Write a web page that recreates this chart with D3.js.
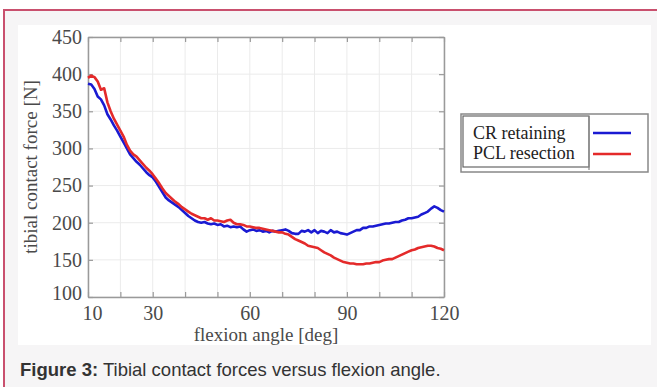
<!DOCTYPE html>
<html><head><meta charset="utf-8">
<script src="https://cdn.jsdelivr.net/npm/d3@7"></script>
<style>html,body{margin:0;padding:0;background:#fff;}svg{display:block;}</style>
</head><body>
<script>
const angles = d3.range(10, 121);
const crRetaining = [387,386,380,370,366,358,346,339,331,324,316,308,300,292,287,282,278,273,268,264,261,255,248,241,234,230,227,224,221,217,213,209,206,203,201,200,201,199,198,199,197,198,195,196,194,195,194,195,191,188,190,191,189,190,188,189,187,189,188,189,190,191,189,186,185,185,189,188,190,187,190,186,189,188,186,190,187,188,186,185,184,186,188,190,190,193,193,195,195,196,197,198,199,199,200,201,201,203,204,206,206,207,208,211,213,215,219,222,220,217,215];
const pclResection = [395,398,396,390,379,381,362,350,340,332,324,316,305,297,292,289,284,279,274,270,265,259,253,246,240,236,232,228,225,221,218,215,212,210,208,206,206,204,206,203,203,202,201,203,204,200,198,198,197,195,195,194,193,193,192,191,190,189,188,187,187,185,184,181,178,176,174,172,169,168,167,166,163,160,158,156,153,151,149,147,146,145,145,144,144,144,145,145,146,147,147,149,150,151,151,153,155,157,159,161,163,164,166,167,168,169,169,168,166,165,163];
const xTicks = [10,20,30,40,50,60,70,80,90,100,110,120];
const xTickLabels = [10,30,60,90,120];
const yTicks = [100,150,200,250,300,350,400,450];
const seriesNames = ["CR retaining","PCL resection"];
const seriesColors = ["#1a1ad2","#e42a2a"];
const caption = ["Figure 3:", " Tibial contact forces versus flexion angle."];

const W = 657, H = 387;
const svg = d3.select("body").append("svg").attr("width", W).attr("height", H);

// outer frame
svg.append("rect").attr("x", 4).attr("y", 10).attr("width", W + 10).attr("height", H + 10)
  .attr("fill", "#f6f5f6").attr("stroke", "#c9506e").attr("stroke-width", 2);
svg.append("rect").attr("x", 18).attr("y", 25).attr("width", 633).attr("height", 320).attr("fill", "#fff");

const L = 88, R = 444, T = 37, B = 297;
const x = d3.scaleLinear().domain([10, 120]).range([L, R]);
const y = d3.scaleLinear().domain([100, 450]).range([B, T]);

const serif = "'Liberation Serif','DejaVu Serif',serif";

// grid
const g = svg.append("g");
g.selectAll(".gx").data(xTicks).join("line")
  .attr("x1", d => x(d)).attr("x2", d => x(d)).attr("y1", T).attr("y2", B)
  .attr("stroke", "#ebebeb").attr("stroke-width", 1);
g.selectAll(".gy").data(yTicks).join("line")
  .attr("y1", d => y(d)).attr("y2", d => y(d)).attr("x1", L).attr("x2", R)
  .attr("stroke", "#ebebeb").attr("stroke-width", 1);

// axes with inner ticks
const axStyle = sel => {
  sel.select(".domain").attr("stroke", "#9a9a9a").attr("stroke-width", 1.5);
  sel.selectAll(".tick line").attr("stroke", "#9a9a9a").attr("stroke-width", 1.2);
  sel.selectAll("text").attr("fill", "#4a4a4a").style("font-family", serif).style("font-size", "20px");
};
const xb = svg.append("g").attr("transform", `translate(0,${B})`)
  .call(d3.axisBottom(x).tickValues(xTicks).tickSizeInner(-5).tickSizeOuter(0)
    .tickFormat(d => xTickLabels.includes(d) ? d : "").tickPadding(9));
axStyle(xb);
const xt = svg.append("g").attr("transform", `translate(0,${T})`)
  .call(d3.axisTop(x).tickValues(xTicks).tickSizeInner(-5).tickSizeOuter(0).tickFormat(""));
axStyle(xt);
const yl = svg.append("g").attr("transform", `translate(${L},0)`)
  .call(d3.axisLeft(y).tickValues(yTicks).tickSizeInner(-5).tickSizeOuter(0).tickPadding(6));
axStyle(yl);
const yr = svg.append("g").attr("transform", `translate(${R},0)`)
  .call(d3.axisRight(y).tickValues(yTicks).tickSizeInner(-5).tickSizeOuter(0).tickFormat(""));
axStyle(yr);
yl.selectAll(".tick").filter(d => d === 100).select("text").attr("dy", "0.1em");
xb.selectAll(".tick").filter(d => d === 10).select("text").attr("dx", "0.2em");

// axis labels
svg.append("text").attr("x", 266).attr("y", 341).attr("text-anchor", "middle")
  .style("font-family", serif).style("font-size", "19px").attr("fill", "#4a4a4a").text("flexion angle [deg]");
svg.append("text").attr("transform", "translate(37,167) rotate(-90)").attr("text-anchor", "middle")
  .style("font-family", serif).style("font-size", "19px").attr("fill", "#4a4a4a").text("tibial contact force [N]");

// lines
const line = d3.line().x((d, i) => x(angles[i])).y(d => y(d));
[crRetaining, pclResection].forEach((s, k) => {
  svg.append("path").datum(s).attr("d", line).attr("fill", "none")
    .attr("stroke", seriesColors[k]).attr("stroke-width", 2.6).attr("stroke-linejoin", "round");
});

// legend
const lg = svg.append("g");
lg.append("rect").attr("x", 461).attr("y", 114).attr("width", 187).attr("height", 58)
  .attr("fill", "#fff").attr("stroke", "#888").attr("stroke-width", 1.5);
lg.append("rect").attr("x", 463).attr("y", 116).attr("width", 126).attr("height", 51)
  .attr("fill", "none").attr("stroke", "#666").attr("stroke-width", 1.2);
lg.append("line").attr("x1", 589).attr("x2", 589).attr("y1", 116).attr("y2", 170).attr("stroke", "#888").attr("stroke-width", 1.2);
seriesNames.forEach((n, i) => {
  lg.append("text").attr("x", 473).attr("y", 139 + i * 20).style("font-family", serif)
    .style("font-size", "18px").attr("fill", "#222").text(n);
  lg.append("line").attr("x1", 593).attr("x2", 631).attr("y1", 133 + i * 21).attr("y2", 133 + i * 21)
    .attr("stroke", seriesColors[i]).attr("stroke-width", 2.6);
});

// caption
const cap = svg.append("text").attr("x", 20).attr("y", 376)
  .style("font-family", "'Liberation Sans',Arial,sans-serif").style("font-size", "18.5px").attr("fill", "#333");
cap.append("tspan").attr("font-weight", "bold").text(caption[0]);
cap.append("tspan").text(caption[1]);
</script>
</body></html>
